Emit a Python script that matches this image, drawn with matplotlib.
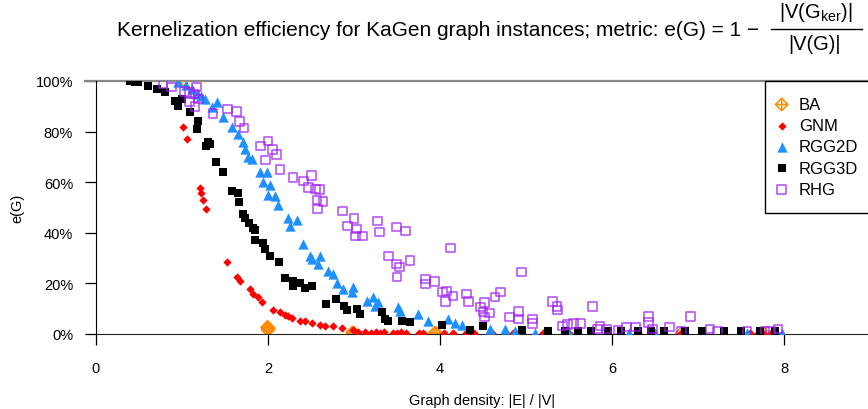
import matplotlib
matplotlib.use("Agg")
import matplotlib.pyplot as plt
from matplotlib.lines import Line2D
from matplotlib.path import Path
from matplotlib.ticker import PercentFormatter

plt.rcParams["font.family"] = ["Liberation Sans", "DejaVu Sans"]
plt.rcParams["mathtext.fontset"] = "custom"
plt.rcParams["mathtext.rm"] = "Liberation Sans"
plt.rcParams["mathtext.it"] = "Liberation Sans"
plt.rcParams["mathtext.bf"] = "Liberation Sans:bold"

# density |E|/|V| and efficiency e(G) (fraction) per generator
ba_x = [1.0, 1.99, 2.0, 2.0, 2.01, 1.995, 2.98, 3.0, 3.94, 3.96, 6.81, 7.76]
ba_y = [1.0, 0.025, 0.02, 0.015, 0.022, 0.028, 0.006, 0.004, 0.005, 0.003, 0.003, 0.004]

gnm_x = [1.01, 1.06, 1.21, 1.22, 1.24, 1.28, 1.52, 1.64, 1.67, 1.79, 1.83, 1.88, 1.93,
         2.06, 2.14, 2.20, 2.23, 2.28, 2.37, 2.43, 2.51, 2.60, 2.66, 2.76, 2.86, 2.99, 3.13,
         3.05, 3.2, 3.25, 3.3, 3.35, 3.45, 3.5, 3.55, 3.6, 3.75, 3.8, 4.05, 4.15, 4.3, 4.4,
         4.6, 4.85, 5.2, 5.5, 6.3, 6.8, 7.5, 7.6, 7.7, 7.75, 7.85, 7.9]
gnm_y = [0.82, 0.77, 0.577, 0.557, 0.53, 0.494, 0.285, 0.225, 0.21, 0.178, 0.16, 0.146, 0.126,
         0.095, 0.087, 0.075, 0.071, 0.063, 0.051, 0.051, 0.043, 0.036, 0.032, 0.032, 0.024, 0.016, 0.008,
         0.006, 0.005, 0.006, 0.005, 0.006, 0.005, 0.004, 0.006, 0.005, 0.004, 0.005, 0.004, 0.005, 0.004, 0.003,
         0.004, 0.003, 0.003, 0.003, 0.003, 0.003, 0.004, 0.003, 0.005, 0.003, 0.004, 0.003]

rgg2d_x = [0.95, 1.05, 1.12, 1.17, 1.22, 1.27, 1.35, 1.41, 1.48, 1.58, 1.65, 1.71, 1.73, 1.77,
           1.81, 1.91, 1.99, 1.94, 2.02, 2.00, 2.08, 2.12, 2.23, 2.34, 2.26, 2.41, 2.49, 2.51,
           2.60, 2.58, 2.70, 2.76, 2.80, 2.87, 2.99, 2.98, 3.15, 3.22, 3.28, 3.24, 3.51, 3.53,
           3.74, 3.86, 4.09, 4.17, 4.26, 4.58, 4.76, 4.87, 5.1, 5.5, 6.2, 6.5, 7.57, 7.98]
rgg2d_y = [0.995, 0.985, 0.97, 0.949, 0.94, 0.93, 0.897, 0.917, 0.858, 0.82, 0.79, 0.76, 0.73, 0.70,
           0.69, 0.64, 0.64, 0.60, 0.59, 0.55, 0.545, 0.51, 0.46, 0.45, 0.427, 0.356, 0.31, 0.296,
           0.31, 0.277, 0.25, 0.237, 0.20, 0.178, 0.186, 0.166, 0.13, 0.146, 0.126, 0.11, 0.107, 0.09,
           0.079, 0.05, 0.059, 0.043, 0.036, 0.02, 0.02, 0.012, 0.004, 0.003, 0.004, 0.003, 0.004, 0.003]

rgg3d_x = [0.40, 0.45, 0.49, 0.60, 0.71, 0.80, 0.92, 0.95, 1.0, 1.09, 1.19, 1.17, 1.30, 1.28, 1.32,
           1.40, 1.48, 1.58, 1.65, 1.66, 1.71, 1.73, 1.78, 1.83, 1.85, 1.85, 1.94, 1.97, 2.02,
           2.13, 2.20, 2.29, 2.29, 2.37, 2.43, 2.51, 2.67, 2.79, 2.88, 2.92, 3.03, 3.07, 3.33,
           3.36, 3.40, 3.56, 3.65, 4.02, 4.35, 4.50, 4.95, 5.25, 5.45, 5.6, 5.75, 5.95, 6.1,
           6.3, 6.45, 6.6, 6.85, 7.05, 7.3, 7.5, 7.72, 7.9]
rgg3d_y = [1.0, 0.995, 0.996, 0.98, 0.97, 0.957, 0.92, 0.90, 0.93, 0.877, 0.84, 0.81, 0.76, 0.745, 0.75,
           0.68, 0.64, 0.565, 0.557, 0.52, 0.474, 0.46, 0.44, 0.42, 0.41, 0.37, 0.36, 0.336, 0.31,
           0.285, 0.22, 0.21, 0.19, 0.20, 0.18, 0.19, 0.12, 0.14, 0.11, 0.095, 0.10, 0.08, 0.087,
           0.06, 0.05, 0.05, 0.047, 0.035, 0.017, 0.032, 0.017, 0.012, 0.01, 0.01, 0.01, 0.012, 0.01,
           0.01, 0.012, 0.01, 0.01, 0.01, 0.01, 0.012, 0.01, 0.01]

rhg_x = [0.78, 0.88, 1.03, 1.09, 1.17, 1.15, 1.19, 1.09, 1.15, 1.36, 1.53, 1.63, 1.67, 1.72,
         1.91, 2.00, 2.05, 2.10, 1.97, 2.14, 2.29, 2.41, 2.51, 2.47, 2.55, 2.60, 2.57, 2.64,
         2.58, 2.87, 3.00, 2.92, 3.03, 3.02, 3.10, 3.27, 3.30, 3.49, 3.60, 4.12, 3.40, 3.49,
         3.53, 3.65, 3.50, 3.83, 3.83, 3.94, 4.03, 4.08, 4.06, 4.15, 4.31, 4.33, 4.47, 4.52,
         4.50, 4.58, 4.52, 4.64, 4.70, 4.95, 4.81, 4.91, 4.91, 5.08, 5.08, 5.31, 5.36, 5.37,
         5.77, 5.42, 5.48, 5.55, 5.63, 5.83, 5.86, 5.94, 6.07, 6.17, 6.27, 6.42, 6.42, 6.47,
         6.67, 6.91, 6.81, 7.14, 7.23, 7.57, 7.78, 7.84, 7.93]
rhg_y = [0.988, 0.976, 0.96, 0.956, 0.976, 0.949, 0.929, 0.917, 0.90, 0.87, 0.889, 0.88, 0.84, 0.814,
         0.743, 0.763, 0.73, 0.71, 0.688, 0.65, 0.62, 0.605, 0.625, 0.58, 0.573, 0.57, 0.53, 0.525,
         0.494, 0.486, 0.455, 0.427, 0.415, 0.387, 0.387, 0.447, 0.403, 0.423, 0.407, 0.34, 0.308, 0.277,
         0.265, 0.289, 0.225, 0.217, 0.198, 0.206, 0.166, 0.17, 0.13, 0.15, 0.158, 0.13, 0.107, 0.126,
         0.087, 0.083, 0.067, 0.146, 0.166, 0.245, 0.067, 0.09, 0.059, 0.059, 0.04, 0.13, 0.11, 0.095,
         0.11, 0.032, 0.036, 0.04, 0.04, 0.02, 0.032, 0.02, 0.016, 0.028, 0.028, 0.07, 0.047, 0.02,
         0.028, 0.07, 0.012, 0.02, 0.012, 0.012, 0.012, 0.012, 0.02]

# R's pch 9: diamond with a plus inside
ba_marker = Path(
    [(0, 1), (1, 0), (0, -1), (-1, 0), (0, 1), (0, 1), (0, -1), (-1, 0), (1, 0)],
    [Path.MOVETO, Path.LINETO, Path.LINETO, Path.LINETO, Path.CLOSEPOLY,
     Path.MOVETO, Path.LINETO, Path.MOVETO, Path.LINETO])

W, H = 868, 410
fig = plt.figure(figsize=(W / 100, H / 100), dpi=100)
ax = fig.add_axes([96 / W, (H - 335) / H, (W - 96) / W, (335 - 82) / H])

ax.scatter(ba_x, ba_y, marker=ba_marker, s=80, facecolors="none", edgecolors="#FF8C00",
           linewidths=1.1, label="BA", zorder=3)
ax.scatter(gnm_x, gnm_y, marker="D", s=18, color="#FF0000", linewidths=0, label="GNM", zorder=3)
ax.scatter(rgg2d_x, rgg2d_y, marker="^", s=55, color="#1E90FF", linewidths=0, label="RGG2D", zorder=3)
ax.scatter(rgg3d_x, rgg3d_y, marker="s", s=34, color="black", linewidths=0, label="RGG3D", zorder=3)
ax.scatter(rhg_x, rhg_y, marker="s", s=40, facecolors="none", edgecolors="#A020F0",
           linewidths=1.2, alpha=0.75, label="RHG", zorder=3)

ax.set_xlim(0, (W - 96) / 86.0)
ax.set_ylim(0, 1)
ax.axhline(1, xmin=-11 / (W - 96), xmax=1, color="#888888", lw=1.6, clip_on=False, zorder=2)

ax.spines["top"].set_visible(False)
ax.spines["right"].set_visible(False)
ax.spines["left"].set_color("black")
ax.spines["bottom"].set_color("#222222")

ax.set_xticks([0, 2, 4, 6, 8])
ax.set_yticks([0, 0.2, 0.4, 0.6, 0.8, 1.0])
ax.yaxis.set_major_formatter(PercentFormatter(1.0, decimals=0))
ax.tick_params(axis="both", length=8, width=0.9, labelsize=10.5)
ax.tick_params(axis="x", pad=11.5)
ax.tick_params(axis="y", pad=8.5)

ax.set_xlabel("Graph density: |E| / |V|", fontsize=10.5, labelpad=13)
ax.set_ylabel("e(G)", fontsize=10.5, labelpad=8)

# title with the fraction written out like R's plotmath
fig.text(438 / W, 1 - 31 / H,
         "Kernelization efficiency for KaGen graph instances; metric: e(G) = 1 \u2212",
         ha="center", va="center", fontsize=15)
fig.text(816 / W, 1 - 12 / H, r"|V($\mathrm{G}_{\mathrm{ker}}$)|",
         ha="center", va="center", fontsize=14.5)
fig.text(815 / W, 1 - 44 / H, "|V(G)|", ha="center", va="center", fontsize=14.5)
fig.add_artist(Line2D([771 / W, 862 / W], [1 - 30 / H, 1 - 30 / H], color="black",
                      lw=1.0, transform=fig.transFigure))

leg = ax.legend(loc="upper left", bbox_to_anchor=(765 / W, 1 - 82 / H),
                bbox_transform=fig.transFigure, fontsize=12, frameon=True,
                fancybox=False, borderaxespad=0, borderpad=0.95, labelspacing=0.38,
                handletextpad=0.98, handlelength=0.1, scatterpoints=1)
leg.get_frame().set_edgecolor("black")
leg.get_frame().set_linewidth(1.0)
leg.get_frame().set_alpha(1.0)

fig.savefig("out.png", dpi=100)
